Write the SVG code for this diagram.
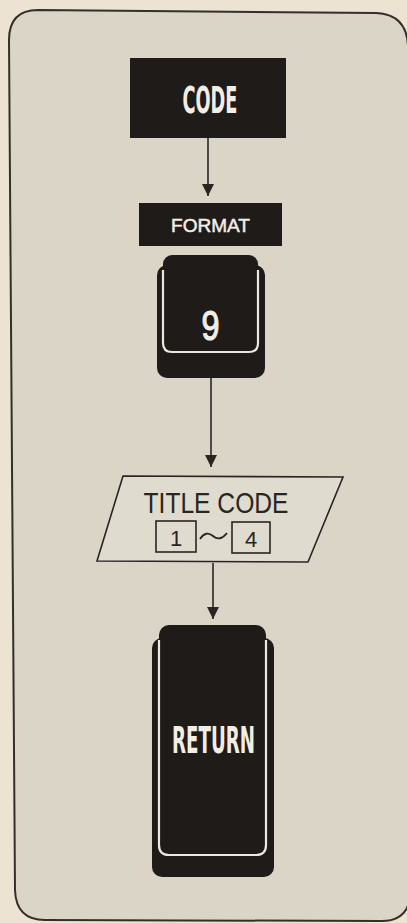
<svg xmlns="http://www.w3.org/2000/svg" width="407" height="923" viewBox="0 0 407 923">
<style>
.dark{fill:#1f1b19}
.cond{font-family:"Liberation Sans Narrow","DejaVu Sans Condensed","Liberation Sans",sans-serif;font-weight:bold;fill:#f2eee6}
.sans{font-family:"Liberation Sans",Arial,sans-serif}
.line{stroke:#2a2522;stroke-width:1.6;fill:none}
.hilite{stroke:#ece8df;stroke-width:2.2;fill:none}
</style>
<defs>
<marker id="arr" viewBox="0 0 12 16" refX="12" refY="8" markerWidth="12" markerHeight="16" markerUnits="userSpaceOnUse" orient="auto">
<path d="M0,2 L12,8 L0,14 Z" fill="#2a2522"/>
</marker>
</defs>
<rect width="407" height="923" fill="#ece3d3"/>
<path d="M38,10 L376,13 Q406,14 408,45 L411,890 Q410,921 382,921 L45,920 Q16,920 15,890 L9,40 Q9,10 38,10 Z" fill="#dad5c6" stroke="#352f29" stroke-width="2"/>
<g id="connectors">
<line class="line" x1="208" y1="138" x2="208" y2="196" marker-end="url(#arr)"/>
<line class="line" x1="211" y1="378" x2="211" y2="467" marker-end="url(#arr)"/>
<line class="line" x1="213" y1="563" x2="213" y2="619" marker-end="url(#arr)"/>
</g>
<g id="code">
<rect class="dark" x="130" y="58" width="156" height="80"/>
<text class="cond" x="210" y="113" font-size="38" text-anchor="middle" textLength="55" lengthAdjust="spacingAndGlyphs">CODE</text>
</g>
<g id="format">
<rect class="dark" x="139" y="203" width="143" height="43"/>
<text class="sans" x="210.5" y="232" font-size="19" fill="#f2eee6" stroke="#f2eee6" stroke-width="0.5" text-anchor="middle" textLength="79" lengthAdjust="spacingAndGlyphs">FORMAT</text>
</g>
<g id="key9">
<rect class="dark" x="157" y="265" width="108" height="113" rx="10"/>
<rect class="dark" x="163" y="255" width="95" height="97" rx="9"/>
<path class="hilite" d="M163,270 L163,343 Q163,352 172,352 L249,352 Q258,352 258,343 L258,270"/>
<text class="sans" x="210.5" y="340" font-size="42" fill="#f2eee6" stroke="#f2eee6" stroke-width="1.2" text-anchor="middle" textLength="18" lengthAdjust="spacingAndGlyphs">9</text>
</g>
<g id="titlecode">
<path d="M123,476 L343,477 L308,562 L97,561 Z" fill="#dfdbce" stroke="#2a2522" stroke-width="1.6"/>
<text class="sans" x="216" y="513" font-size="30" fill="#2a2522" text-anchor="middle" textLength="145" lengthAdjust="spacingAndGlyphs">TITLE CODE</text>
<rect x="156" y="521" width="40" height="31" fill="none" stroke="#2a2522" stroke-width="1.6"/>
<text class="sans" x="176" y="546" font-size="22" fill="#2a2522" text-anchor="middle">1</text>
<path d="M200,539 Q206,530 213,536 T227,533" fill="none" stroke="#2a2522" stroke-width="1.8"/>
<rect x="232" y="522" width="38" height="31" fill="none" stroke="#2a2522" stroke-width="1.6"/>
<text class="sans" x="251" y="547" font-size="22" fill="#2a2522" text-anchor="middle">4</text>
</g>
<g id="return">
<rect class="dark" x="152" y="638" width="122" height="239" rx="10"/>
<rect class="dark" x="159" y="625" width="107" height="230" rx="10"/>
<path class="hilite" d="M159,640 L159,845 Q159,855 169,855 L256,855 Q266,855 266,845 L266,640"/>
<text class="cond" x="213.5" y="753" font-size="38" text-anchor="middle" textLength="83" lengthAdjust="spacingAndGlyphs">RETURN</text>
</g>
</svg>
